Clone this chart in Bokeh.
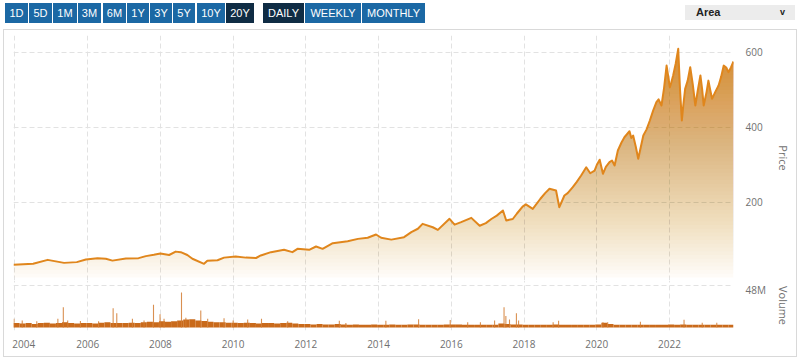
import numpy as np
from bokeh.plotting import figure
from bokeh.models import Range1d, FixedTicker, Div
from bokeh.layouts import column
from bokeh.embed import file_html
from bokeh.resources import INLINE

# ---------------- data ----------------
price_dates = [2003.96, 2004.50, 2004.90, 2005.35, 2005.70, 2005.95, 2006.27, 2006.50, 2006.68,
               2007.05, 2007.40, 2007.60, 2007.82, 2008.00, 2008.24, 2008.42, 2008.56, 2008.74,
               2008.88, 2009.20, 2009.29, 2009.57, 2009.75, 2010.07, 2010.35, 2010.63, 2010.76,
               2011.04, 2011.40, 2011.63, 2011.77, 2012.09, 2012.28, 2012.46, 2012.74, 2013.15,
               2013.43, 2013.70, 2013.93, 2014.07, 2014.35, 2014.70, 2014.90, 2015.08, 2015.21,
               2015.49, 2015.63, 2015.95, 2016.09, 2016.27, 2016.55, 2016.78, 2016.95, 2017.10,
               2017.25, 2017.42, 2017.51, 2017.69, 2017.80, 2017.96, 2018.05, 2018.24, 2018.45,
               2018.58, 2018.70, 2018.88, 2018.97, 2019.11, 2019.20, 2019.34, 2019.45, 2019.57,
               2019.71, 2019.82, 2019.94, 2020.00, 2020.08, 2020.17, 2020.25, 2020.35, 2020.42,
               2020.49, 2020.58, 2020.68, 2020.76, 2020.83, 2020.90, 2020.95, 2021.00, 2021.07,
               2021.14, 2021.28, 2021.37, 2021.46, 2021.55, 2021.64, 2021.70, 2021.78, 2021.85,
               2021.92, 2022.01, 2022.05, 2022.10, 2022.17, 2022.24, 2022.29, 2022.34, 2022.38,
               2022.43, 2022.50, 2022.57, 2022.64, 2022.71, 2022.78, 2022.85, 2022.90, 2022.94,
               2023.02, 2023.07, 2023.12, 2023.17, 2023.26, 2023.35, 2023.42, 2023.49, 2023.56,
               2023.62, 2023.69, 2023.76]
price_values = [34, 36.5, 47, 39, 41, 48, 51.6, 50, 45,
                50.7, 51.6, 57, 60.4, 64, 60, 69, 67.6, 60,
                50, 36.5, 44.4, 46, 53, 56, 53, 52, 58.7,
                67.6, 73.8, 67.6, 76.4, 73.8, 82.7, 76.4, 91.6, 96.9,
                103, 106, 114.7, 106, 101, 107.6, 121, 130, 143,
                134, 127, 156.4, 141, 147.6, 159, 138, 145, 156,
                165, 178.7, 152, 156, 170, 189, 195, 183, 210,
                225, 236.5, 232, 187.5, 218.7, 225, 240.8, 255, 272,
                294, 278, 285, 300, 314, 276.5, 295, 307.5, 312,
                298.7, 338.7, 360, 374, 382, 390, 372, 378.7, 350,
                316.5, 378.7, 395, 418.7, 445, 467.5, 475, 458.7, 505,
                565, 507.5, 520, 538.7, 570, 609.8, 500, 418.7, 460,
                503, 525, 560.8, 515, 458.7, 500, 538.7, 500, 458.7,
                495, 525, 500, 476.5, 495, 512, 535, 565, 560,
                547.5, 560, 576]

# volume: typical level (millions), six two-month blocks per year, 2004..2023
vol_first_year = 2004
vol_levels_m = [
    5.0, 4.5, 5.0, 4.0, 5.0, 5.5,   # 2004
    4.5, 5.0, 6.0, 5.0, 4.5, 5.0,   # 2005
    5.0, 4.5, 5.5, 6.0, 5.0, 5.0,   # 2006
    5.0, 5.5, 5.0, 6.0, 6.5, 6.0,   # 2007
    7.0, 6.5, 7.0, 8.0, 9.0, 9.5,   # 2008
    8.0, 7.5, 6.5, 6.0, 6.0, 5.5,   # 2009
    5.5, 5.0, 5.5, 5.0, 4.5, 5.0,   # 2010
    5.0, 4.5, 5.0, 5.5, 4.5, 4.0,   # 2011
    4.0, 3.5, 4.0, 3.5, 3.5, 4.0,   # 2012
    3.5, 3.0, 3.5, 3.0, 3.0, 3.5,   # 2013
    3.0, 3.0, 3.5, 3.0, 3.0, 3.5,   # 2014
    3.5, 3.0, 3.0, 3.0, 3.0, 3.5,   # 2015
    3.5, 3.5, 3.0, 3.0, 3.0, 3.0,   # 2016
    3.0, 3.0, 4.5, 4.0, 3.5, 3.5,   # 2017
    3.0, 3.0, 3.0, 3.0, 3.0, 3.5,   # 2018
    3.0, 3.0, 3.0, 3.0, 3.0, 3.0,   # 2019
    3.5, 5.5, 4.0, 3.0, 3.0, 3.0,   # 2020
    3.0, 3.0, 3.0, 3.0, 3.0, 3.0,   # 2021
    3.5, 3.0, 3.5, 3.0, 3.0, 3.0,   # 2022
    3.0, 3.0, 3.0, 3.0, 3.0,        # 2023
]
spike_dates = [2003.97, 2004.20, 2004.60, 2005.18, 2005.33, 2005.45, 2005.80, 2006.30, 2006.70,
               2006.80, 2007.23, 2007.55, 2007.81, 2007.99, 2008.10, 2008.58, 2008.70, 2009.11,
               2009.30, 2009.75, 2010.00, 2010.40, 2010.78, 2011.50, 2012.92, 2013.10, 2014.20,
               2015.10, 2015.97, 2016.45, 2016.80, 2017.19, 2017.45, 2017.50, 2017.60, 2017.79,
               2017.85, 2018.80, 2018.95, 2020.17, 2020.30, 2021.20, 2022.40, 2022.90, 2023.30]
spike_values_m = [10, 8, 7, 10, 23, 8, 7.5, 7, 22,
                  16.4, 10, 8, 26, 15, 10, 40, 11, 19.4,
                  10, 10.5, 8, 9, 10, 7, 7.6, 5, 7.6,
                  9.3, 8.5, 6, 6, 8, 23.2, 13, 9, 16.4,
                  8, 6, 7.6, 6, 6, 6.5, 8.8, 5.5, 5.5]

year_ticks = [2004, 2006, 2008, 2010, 2012, 2014, 2016, 2018, 2020, 2022]
price_ticks = [200, 400, 600]
volume_ticks_m = [48]
range_buttons = ["1D", "5D", "1M", "3M", "6M", "1Y", "3Y", "5Y", "10Y", "20Y"]
interval_buttons = ["DAILY", "WEEKLY", "MONTHLY"]
chart_type = "Area"

# ---------------- style ----------------
LINE = "#e0861c"
FILL_RGB = (217, 128, 30)
VOL = "#c96a1b"
GRID = "#e2e2e2"
LABEL = "#707070"
FONT = "Open Sans"
FIG_W = 792

x_range = Range1d(price_dates[0], price_dates[-1])

# ---------------- price pane ----------------
p = figure(width=FIG_W, height=250, x_range=x_range, y_range=Range1d(-8, 645.3),
           x_axis_location=None, y_axis_location="right",
           output_backend="svg", toolbar_location=None,
           min_border_left=9, min_border_right=63, min_border_top=5, min_border_bottom=0)
p.outline_line_color = None
p.background_fill_color = "white"
p.border_fill_color = "white"

x = np.array(price_dates)
y = np.array(price_values)
levels = np.linspace(0, 640, 65)
top_ref = 645.0
prev_T = 0.0
for k in range(len(levels) - 1):
    lo = levels[k]
    mid = 0.5 * (levels[k] + levels[k + 1])
    T = 0.03 + 0.89 * mid / top_ref
    alpha = 1 - (1 - T) / (1 - prev_T)
    prev_T = T
    p.varea(x=x, y1=np.minimum(y, lo), y2=y,
            fill_color="#%02x%02x%02x" % FILL_RGB, fill_alpha=alpha)
p.line(x, y, line_color=LINE, line_width=2, line_join="round")

for g in p.xgrid:
    g.ticker = FixedTicker(ticks=year_ticks)
p.ygrid.ticker = FixedTicker(ticks=price_ticks)
for g in list(p.xgrid) + list(p.ygrid):
    g.grid_line_color = GRID
    g.grid_line_dash = "5 3"
    g.grid_line_width = 1

ax = p.yaxis[0]
ax.ticker = FixedTicker(ticks=price_ticks)
ax.axis_line_color = None
ax.major_tick_line_color = None
ax.minor_tick_line_color = None
ax.major_tick_out = 0
ax.major_label_standoff = 12
ax.major_label_text_font = FONT
ax.major_label_text_font_size = "10px"
ax.major_label_text_color = LABEL
ax.axis_label = "Price"
ax.axis_label_standoff = 10
ax.axis_label_text_font = FONT
ax.axis_label_text_font_size = "11px"
ax.axis_label_text_font_style = "normal"
ax.axis_label_text_color = LABEL

# ---------------- volume pane ----------------
v = figure(width=FIG_W, height=76, x_range=x_range, y_range=Range1d(-3.43e6, 53.7e6),
           y_axis_location="right", output_backend="svg", toolbar_location=None,
           min_border_left=9, min_border_right=63, min_border_top=0, min_border_bottom=26)
v.outline_line_color = None
v.border_fill_color = "white"

step = 1.0 / 6.0
vol_x = np.array([vol_first_year - 0.04 + step * (i + 0.5) for i in range(len(vol_levels_m))])
v.vbar(x=vol_x, width=step, top=np.array(vol_levels_m) * 1e6, bottom=0,
       fill_color=VOL, line_color=None)
v.vbar(x=spike_dates, width=0.03, top=np.array(spike_values_m) * 1e6, bottom=0,
       fill_color="#d27c33", fill_alpha=0.85, line_color=None)

v.xgrid.ticker = FixedTicker(ticks=year_ticks)
v.ygrid.ticker = FixedTicker(ticks=[t * 1e6 for t in volume_ticks_m])
for g in list(v.xgrid) + list(v.ygrid):
    g.grid_line_color = GRID
    g.grid_line_dash = "5 3"
    g.grid_line_width = 1

xa = v.xaxis[0]
xa.ticker = FixedTicker(ticks=year_ticks)
xa.axis_line_color = None
xa.major_tick_line_color = None
xa.minor_tick_line_color = None
xa.major_tick_out = 0
xa.major_label_standoff = 6
xa.major_label_text_font = FONT
xa.major_label_text_font_size = "10px"
xa.major_label_text_color = LABEL
xa.major_label_overrides = {year_ticks[0]: "\u00a0" * 3 + str(year_ticks[0])}

va = v.yaxis[0]
va.ticker = FixedTicker(ticks=[t * 1e6 for t in volume_ticks_m])
va.major_label_overrides = {int(t * 1e6): "%dM" % t for t in volume_ticks_m}
va.axis_line_color = None
va.major_tick_line_color = None
va.minor_tick_line_color = None
va.major_tick_out = 0
va.major_label_standoff = 12
va.major_label_text_font = FONT
va.major_label_text_font_size = "10px"
va.major_label_text_color = LABEL
va.axis_label = "Volume"
va.axis_label_standoff = 7
va.axis_label_text_font = FONT
va.axis_label_text_font_size = "11px"
va.axis_label_text_font_style = "normal"
va.axis_label_text_color = LABEL

# ---------------- header (buttons, chart-type selector) ----------------
btn_pos = [(5, 23), (29, 23), (53, 24), (78, 23), (103, 23), (127, 22), (150, 22), (173, 22),
           (197, 28), (226, 28)]
int_pos = [(263, 41), (305, 56), (362, 63)]
BLUE = "#1b68a4"
DARK = "#0f2c44"
parts = []
for (lbl, (bx, bw)) in zip(range_buttons, btn_pos):
    bg = DARK if lbl == "20Y" else BLUE
    parts.append(
        f'<div style="position:absolute;left:{bx}px;top:3px;width:{bw}px;height:20px;'
        f'line-height:20px;text-align:center;color:#fff;background:{bg};">{lbl}</div>')
for (lbl, (bx, bw)) in zip(interval_buttons, int_pos):
    bg = DARK if lbl == "DAILY" else BLUE
    parts.append(
        f'<div style="position:absolute;left:{bx}px;top:3px;width:{bw}px;height:20px;'
        f'line-height:20px;text-align:center;color:#fff;background:{bg};">{lbl}</div>')
parts.append(
    '<div style="position:absolute;left:685px;top:5px;width:110px;height:15px;'
    'line-height:15px;background:#ececec;color:#222;font-weight:bold;">'
    f'<span style="position:absolute;left:11px;">{chart_type}</span>'
    '<span style="position:absolute;left:95px;font-size:9px;">v</span></div>')
html = ('<div style="position:relative;width:800px;height:29px;'
        'font-family:\'Liberation Sans\',Arial,sans-serif;font-size:11px;">' + "".join(parts) + '</div>')
header = Div(text=html, width=800, height=29, margin=0)

panel = column(p, v, spacing=0, margin=(0, 0, 0, 3),
               styles={"border": "1px solid #d9d9d9"})
layout = column(header, panel, spacing=0)
open("out.html", "w").write(file_html(layout, INLINE))
